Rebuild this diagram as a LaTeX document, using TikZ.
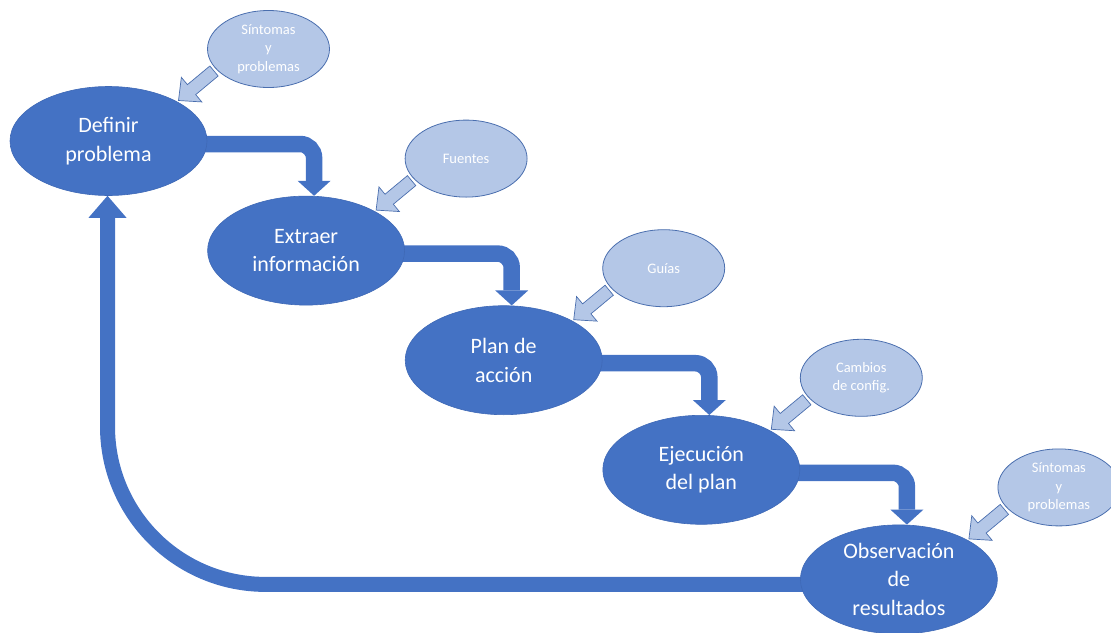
\documentclass[tikz,border=0pt]{standalone}
\usepackage{fontspec}
\setmainfont{Carlito}
\usetikzlibrary{calc,shapes.geometric}

\definecolor{stepblue}{HTML}{4472C4}
\definecolor{stepedge}{HTML}{3F69B6}
\definecolor{inputfill}{HTML}{B4C7E7}
\definecolor{inputedge}{HTML}{4A6EAE}

\pgfdeclarelayer{bg}
\pgfsetlayers{bg,main}

\tikzset{
  stepnode/.style={ellipse, fill=stepblue, draw=stepedge, line width=0.6pt,
    minimum width=197pt, minimum height=109pt, inner sep=0pt, align=center,
    text=white, font=\fontsize{22}{28.5}\selectfont},
  inputnode/.style={ellipse, fill=inputfill, draw=inputedge, line width=0.8pt,
    minimum width=122pt, minimum height=77pt, inner sep=0pt, align=center,
    text=white, font=\fontsize{14.5}{18.5}\selectfont},
  flowline/.style={draw=stepblue, line width=16.5pt, rounded corners=14pt},
  inputarrow/.style={fill=inputfill, draw=inputedge, line width=0.7pt, line join=miter},
}

\begin{document}
\begin{tikzpicture}[x=1pt,y=-1pt]
\useasboundingbox (0,0) rectangle (1111,632);

% process steps
\node[stepnode] (m1) at (108.5,141.0) {Definir\\problema};
\node[stepnode] (m2) at (306.1,250.6) {Extraer\\información};
\node[stepnode] (m3) at (503.7,360.2) {Plan de\\acción};
\node[stepnode] (m4) at (701.3,469.8) {Ejecución\\del plan};
\node[stepnode] (m5) at (898.9,579.4) {Observación\\de\\resultados};

% inputs feeding each step
\node[inputnode] (s1) at ($(m1)+(160,-92)$) {Síntomas\\y\\problemas};
\node[inputnode] (s2) at ($(m2)+(160,-92)$) {Fuentes};
\node[inputnode] (s3) at ($(m3)+(160,-92)$) {Guías};
\node[inputnode] (s4) at ($(m4)+(160,-92)$) {Cambios\\de config.};
\node[inputnode] (s5) at ($(m5)+(160,-92)$) {Síntomas\\y\\problemas};

% bent arrows from one step to the next
\begin{pgfonlayer}{bg}
\foreach \a/\b in {m1/m2,m2/m3,m3/m4,m4/m5}{
  \coordinate (tip) at ($(\b.north)+(8,0)$);
  \coordinate (base) at ($(tip)+(0,-15)$);
  \draw[flowline] ($(\a.center)+(0,3)$) -| (base);
  \fill[stepblue] (tip) -- ($(base)+(-16.5,0)$) -- ($(base)+(16.5,0)$) -- cycle;
}
% feedback loop back to the first step
\coordinate (rtip) at ($(m1.south)+(-1,0)$);
\coordinate (rbase) at ($(rtip)+(0,22)$);
\draw[flowline, line width=15pt, rounded corners=158pt] ($(m5.center)+(0,5)$) -| (rbase);
\fill[stepblue] (rtip) -- ($(rbase)+(-19,0)$) -- ($(rbase)+(19,0)$) -- cycle;
\end{pgfonlayer}

% block arrows from each input to its step
\foreach \s/\m in {s1/m1,s2/m2,s3/m3,s4/m4,s5/m5}{
  \coordinate (S) at ($(\s.center)+(-54.5,22)$);
  \coordinate (E) at ($(\m.center)+(70,-40.5)$);
  \coordinate (H) at ($(E)!17pt!(S)$);
  \draw[inputarrow] ($(S)!6.5pt!90:(E)$) -- ($(H)!6.5pt!-90:(S)$)
    -- ($(H)!16pt!-90:(S)$) -- (E) -- ($(H)!16pt!90:(S)$)
    -- ($(H)!6.5pt!90:(S)$) -- ($(S)!6.5pt!-90:(E)$) -- cycle;
}
\end{tikzpicture}
\end{document}
